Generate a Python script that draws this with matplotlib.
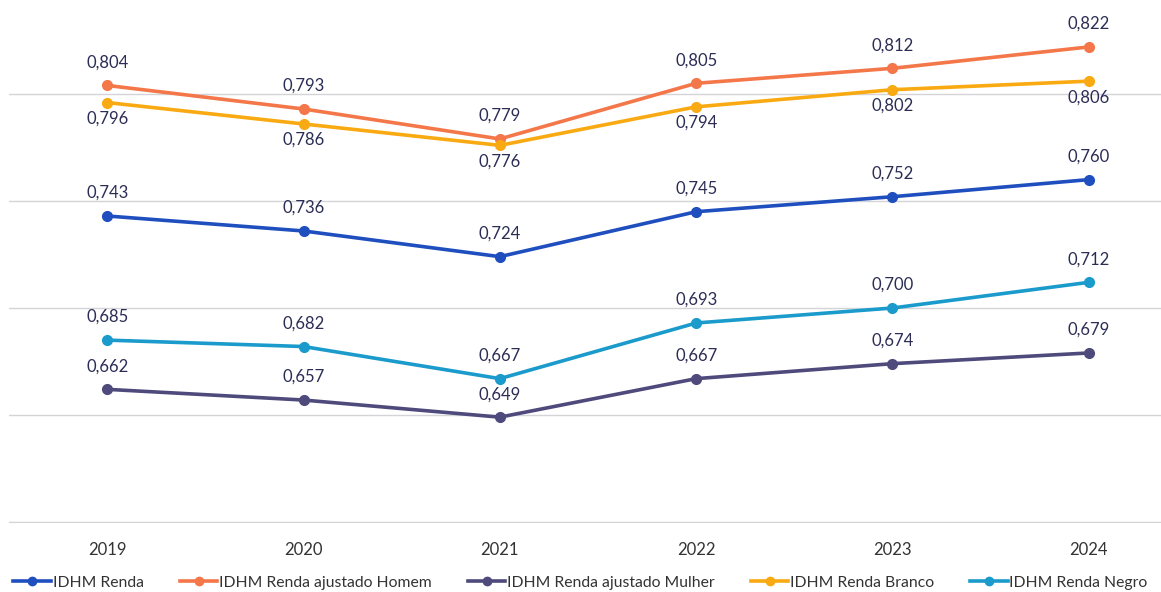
import matplotlib
matplotlib.use("Agg")
import matplotlib.pyplot as plt
from matplotlib.lines import Line2D

years = ["2019", "2020", "2021", "2022", "2023", "2024"]
renda = [0.743, 0.736, 0.724, 0.745, 0.752, 0.760]
homem = [0.804, 0.793, 0.779, 0.805, 0.812, 0.822]
mulher = [0.662, 0.657, 0.649, 0.667, 0.674, 0.679]
branco = [0.796, 0.786, 0.776, 0.794, 0.802, 0.806]
negro = [0.685, 0.682, 0.667, 0.693, 0.700, 0.712]

series_names = ["IDHM Renda", "IDHM Renda ajustado Homem", "IDHM Renda ajustado Mulher",
                "IDHM Renda Branco", "IDHM Renda Negro"]
series_vals = [renda, homem, mulher, branco, negro]
colors = ["#1f4fbf", "#f4774a", "#4e4a7c", "#f9aa12", "#1b9bcc"]
label_pos = ["above", "above", "above", "below", "above"]

plt.rcParams['font.family'] = ['Lato', 'DejaVu Sans']
txt_color = "#2b2d55"

fig = plt.figure(figsize=(11.61, 5.92), dpi=100)
ax = fig.add_axes([9 / 1161, 0.1182, 1178 / 1161, 0.8857])
x = list(range(len(years)))

for name, vals, c, pos in zip(series_names, series_vals, colors, label_pos):
    ax.plot(x, vals, color=c, lw=2.6, marker="o", ms=7, zorder=3, solid_capstyle="round")
    for xi, v in zip(x, vals):
        off = 23 if pos == "above" else -16
        ax.annotate(f"{v:.3f}".replace(".", ","), (xi, v), xytext=(0, off),
                    textcoords="offset pixels", ha="center", va="center",
                    fontsize=12, color=txt_color)

ax.set_xlim(-0.5, 5.5)
ax.set_ylim(0.60, 0.845)
ax.set_yticks([0.60, 0.65, 0.70, 0.75, 0.80])
ax.yaxis.grid(True, color="#d4d4d8", lw=1)
ax.set_axisbelow(True)
ax.tick_params(left=False, labelleft=False, bottom=False)
ax.set_xticks(x)
ax.set_xticklabels(years, fontsize=12, color="#333333")
ax.tick_params(axis="x", pad=11)
for s in ["top", "right", "left"]:
    ax.spines[s].set_visible(False)
ax.spines["bottom"].set_color("#d4d4d8")

handles = [Line2D([0], [0], color=c, lw=2.6, marker="o", ms=6) for c in colors]
fig.legend(handles, series_names, loc="center", bbox_to_anchor=(0.5, 0.016), ncol=5,
           frameon=False, fontsize=11.3, handlelength=2.4, columnspacing=2.3,
           handletextpad=0.1, labelcolor="#333333")

fig.savefig("out.png", dpi=100)
